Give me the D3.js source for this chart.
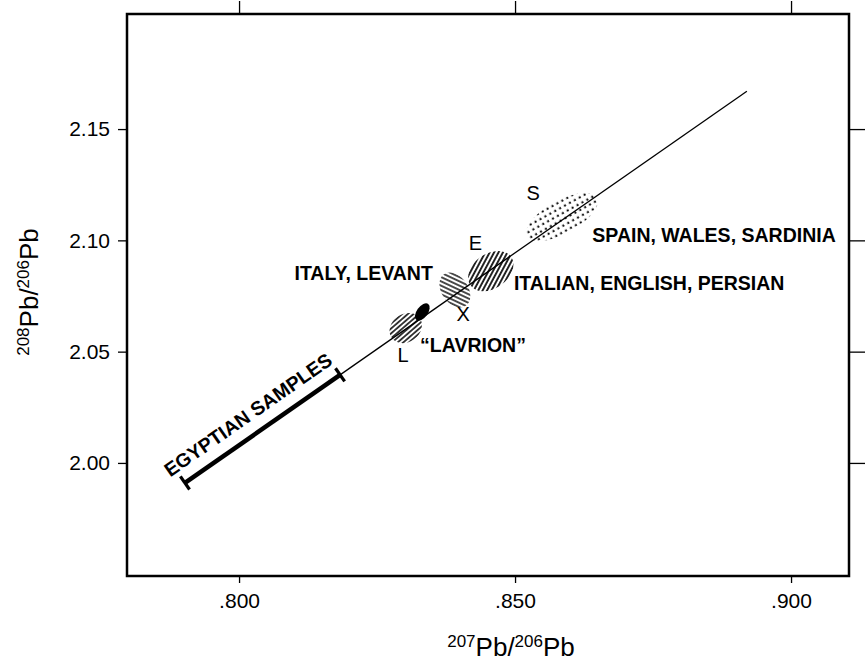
<!DOCTYPE html>
<html>
<head>
<meta charset="utf-8">
<script src="https://cdn.jsdelivr.net/npm/d3@7"></script>
<style>
  body { margin: 0; background: #fff; }
  svg { display: block; font-family: "Liberation Sans", Arial, Helvetica, sans-serif; }
</style>
</head>
<body>
<div id="chart"></div>
<script>
// axes
const xTicks = [0.800, 0.850, 0.900];
const yTicks = [2.00, 2.05, 2.10, 2.15];
const xDomain = [0.7797, 0.9105];
const yDomain = [1.9492, 2.2017];

// the trend line and the egyptian samples segment
const trendX = [0.7902, 0.8920];
const trendY = [1.9910, 2.1670];
const egyptX = [0.7902, 0.8183];
const egyptY = [1.9910, 2.0396];

// ore fields (centre, half length along the line in x units, half width in y units)
const fieldName = ["L", "X", "E", "S"];
const fieldX = [0.8302, 0.8391, 0.8456, 0.8585];
const fieldY = [2.0606, 2.0777, 2.0862, 2.1105];
const fieldSpan = [0.0031, 0.0024, 0.0045, 0.0073];
const fieldWidth = [0.0063, 0.0086, 0.0078, 0.0074];

// the black "italy, levant" point
const blobX = [0.8332];
const blobY = [2.0678];

// labels
const annotText = ["S", "E", "X", "L", "ITALY, LEVANT", "ITALIAN, ENGLISH, PERSIAN", "SPAIN, WALES, SARDINIA", "\u201CLAVRION\u201D"];
const annotX = [0.8533, 0.8428, 0.8406, 0.8297, 0.8351, 0.8498, 0.8640, 0.8328];
const annotY = [2.1203, 2.0979, 2.0660, 2.0476, 2.0822, 2.0777, 2.0992, 2.0498];
const annotAnchor = ["middle", "middle", "middle", "middle", "end", "start", "start", "start"];
const annotBold = [false, false, false, false, true, true, true, true];

const width = 867, height = 665;
const box = {left: 127, right: 849, top: 14, bottom: 576};

const svg = d3.select("#chart").append("svg")
  .attr("width", width)
  .attr("height", height);

const x = d3.scaleLinear().domain(xDomain).range([box.left, box.right]);
const y = d3.scaleLinear().domain(yDomain).range([box.bottom, box.top]);

const fmtX = v => d3.format(".3f")(v).replace(/^0/, "");
const fmtY = d3.format(".2f");

// hatch patterns
const defs = svg.append("defs");
function hatch(id, angle, gap, sw) {
  const p = defs.append("pattern")
    .attr("id", id)
    .attr("patternUnits", "userSpaceOnUse")
    .attr("width", 12).attr("height", gap)
    .attr("patternTransform", `rotate(${angle})`);
  p.append("line")
    .attr("x1", 0).attr("x2", 12)
    .attr("y1", gap / 2).attr("y2", gap / 2)
    .attr("stroke", "#000").attr("stroke-width", sw);
}
hatch("hatchL", -6, 3.7, 1.5);
hatch("hatchX", 60, 3.9, 1.4);
hatch("hatchE", -27, 3.9, 1.7);
const dots = defs.append("pattern")
  .attr("id", "dotsS")
  .attr("patternUnits", "userSpaceOnUse")
  .attr("width", 5.6).attr("height", 5.6);
dots.append("rect").attr("x", 1.6).attr("y", 1.6).attr("width", 2).attr("height", 2).attr("fill", "#000");

const fill = {L: "url(#hatchL)", X: "url(#hatchX)", E: "url(#hatchE)", S: "url(#dotsS)"};

// angle of the trend line on screen
const lineAngle = Math.atan2(y(trendY[1]) - y(trendY[0]), x(trendX[1]) - x(trendX[0])) * 180 / Math.PI;

// fields
svg.selectAll(".field")
  .data(fieldName)
  .enter()
  .append("ellipse")
  .attr("class", "field")
  .attr("cx", 0).attr("cy", 0)
  .attr("rx", (d, i) => x(fieldX[i] + fieldSpan[i]) - x(fieldX[i]))
  .attr("ry", (d, i) => y(fieldY[i] - fieldWidth[i]) - y(fieldY[i]))
  .attr("transform", (d, i) => `translate(${x(fieldX[i])},${y(fieldY[i])}) rotate(${d === "S" ? lineAngle + 6 : lineAngle})`)
  .attr("fill", d => fill[d]);

// trend line
svg.append("line")
  .attr("x1", x(trendX[0])).attr("y1", y(trendY[0]))
  .attr("x2", x(trendX[1])).attr("y2", y(trendY[1]))
  .attr("stroke", "#000").attr("stroke-width", 1.3);

// black point
svg.selectAll(".blob")
  .data(blobX)
  .enter()
  .append("ellipse")
  .attr("rx", 5.5).attr("ry", 10)
  .attr("transform", (d, i) => `translate(${x(d)},${y(blobY[i])}) rotate(36)`)
  .attr("fill", "#000");

// egyptian samples bar with end caps
const ex0 = x(egyptX[0]), ey0 = y(egyptY[0]), ex1 = x(egyptX[1]), ey1 = y(egyptY[1]);
const egyptAngle = Math.atan2(ey1 - ey0, ex1 - ex0) * 180 / Math.PI;
svg.append("line")
  .attr("x1", ex0).attr("y1", ey0).attr("x2", ex1).attr("y2", ey1)
  .attr("stroke", "#000").attr("stroke-width", 4.5);
[[ex0, ey0], [ex1, ey1]].forEach(p => {
  svg.append("line")
    .attr("transform", `translate(${p[0]},${p[1]}) rotate(${egyptAngle})`)
    .attr("x1", 0).attr("x2", 0).attr("y1", -8).attr("y2", 8)
    .attr("stroke", "#000").attr("stroke-width", 3.2);
});
svg.append("text")
  .attr("transform", `translate(${ex0},${ey0}) rotate(${egyptAngle})`)
  .attr("x", -9).attr("y", -13)
  .style("font-size", "19.5px")
  .style("font-weight", "bold")
  .text("EGYPTIAN SAMPLES");

// labels
svg.selectAll(".annot")
  .data(annotText)
  .enter()
  .append("text")
  .attr("class", "annot")
  .attr("x", (d, i) => x(annotX[i]))
  .attr("y", (d, i) => y(annotY[i]))
  .attr("text-anchor", (d, i) => annotAnchor[i])
  .attr("dominant-baseline", (d, i) => annotBold[i] ? "auto" : "middle")
  .style("font-size", (d, i) => annotBold[i] ? "19.5px" : "20px")
  .style("font-weight", (d, i) => annotBold[i] ? "bold" : "normal")
  .text(d => d);

// axes
const axisBottom = d3.axisBottom(x).tickValues(xTicks).tickSize(7).tickPadding(10).tickFormat(fmtX);
const axisTop = d3.axisTop(x).tickValues(xTicks).tickSize(13).tickFormat("");
const axisLeft = d3.axisLeft(y).tickValues(yTicks).tickSize(9).tickPadding(8).tickFormat(fmtY);
const axisRight = d3.axisRight(y).tickValues(yTicks).tickSize(16).tickFormat("");

function styleAxis(g) {
  g.select(".domain").remove();
  g.selectAll(".tick line").attr("stroke", "#000").attr("stroke-width", 1.3);
  g.selectAll(".tick text").attr("fill", "#000").style("font-size", "21px").style("font-family", "Liberation Sans, Arial, sans-serif");
}
svg.append("g").attr("transform", `translate(0,${box.bottom})`).call(axisBottom).call(styleAxis);
svg.append("g").attr("transform", `translate(0,${box.top})`).call(axisTop).call(styleAxis);
svg.append("g").attr("transform", `translate(${box.left},0)`).call(axisLeft).call(styleAxis);
svg.append("g").attr("transform", `translate(${box.right},0)`).call(axisRight).call(styleAxis);

// frame
svg.append("rect")
  .attr("x", box.left).attr("y", box.top)
  .attr("width", box.right - box.left).attr("height", box.bottom - box.top)
  .attr("fill", "none").attr("stroke", "#000").attr("stroke-width", 2.5);

// axis titles
function isotopeLabel(t, a, b) {
  t.append("tspan").attr("baseline-shift", "super").style("font-size", "17px").text(a);
  t.append("tspan").text("Pb/");
  t.append("tspan").attr("baseline-shift", "super").style("font-size", "17px").text(b);
  t.append("tspan").text("Pb");
}
svg.append("text")
  .attr("x", 511).attr("y", 656)
  .attr("text-anchor", "middle")
  .style("font-size", "26px")
  .call(isotopeLabel, "207", "206");
svg.append("text")
  .attr("transform", "translate(38,292) rotate(-90)")
  .attr("text-anchor", "middle")
  .style("font-size", "26px")
  .call(isotopeLabel, "208", "206");
</script>
</body>
</html>
